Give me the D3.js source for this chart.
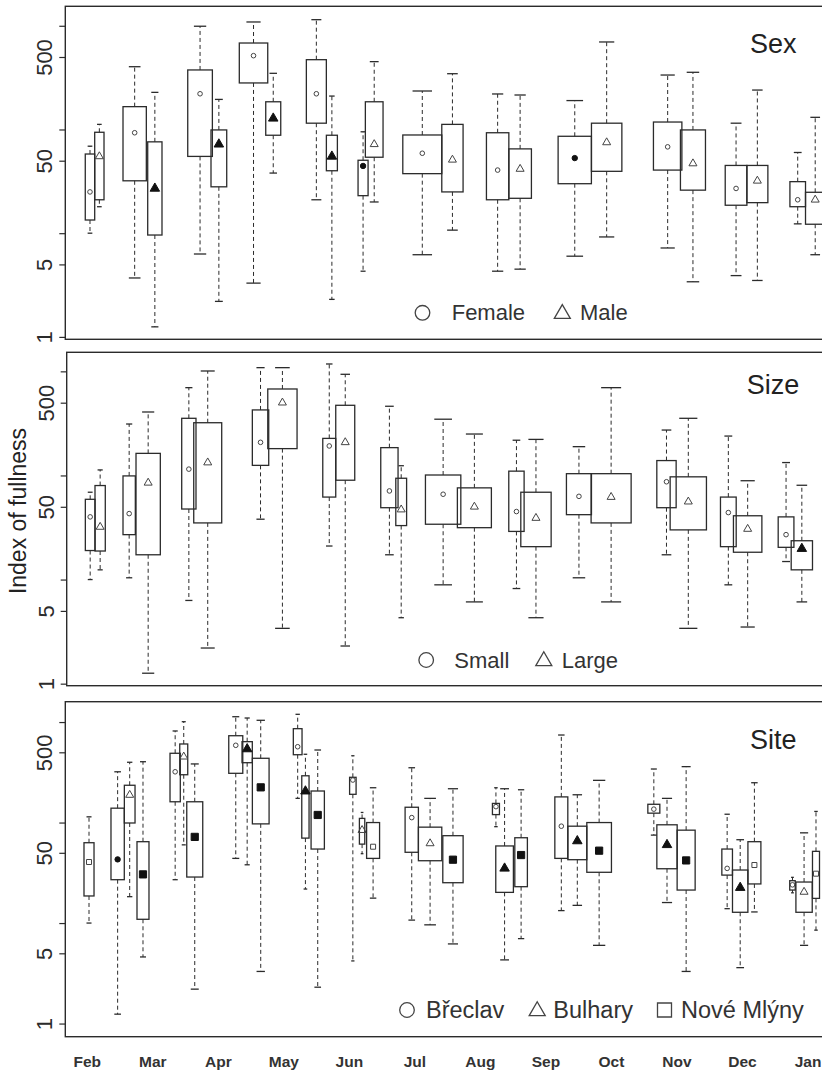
<!DOCTYPE html>
<html>
<head>
<meta charset="utf-8">
<script src="https://cdn.jsdelivr.net/npm/d3@7"></script>
<style>
  body { margin: 0; background: #fff; }
  svg { display: block; font-family: "Liberation Sans", Arial, sans-serif; }
</style>
</head>
<body>
<svg id="chart" width="822" height="1070"></svg>
<script>
const months = ["Feb", "Mar", "Apr", "May", "Jun", "Jul", "Aug", "Sep", "Oct", "Nov", "Dec", "Jan"];
const yTicks = [1, 5, 10, 50, 100, 500, 1000];
const yTickLabels = [1, 5, 50, 500];

// each box: [lower whisker, Q1, median, Q3, upper whisker], one per month
// "at" = box centre on the month axis (0 = Feb), "wid" = box width in month units

/* ---- Sex ---- */
const sexLabels = ["Female", "Male"];
const femaleStats = [
  [10, 13.4, 25, 58, 69], [3.7, 32, 93, 166, 403], [6.3, 55, 221, 375, 990],
  [3.3, 281, 515, 682, 1088], [21, 115, 221, 471, 1145], [4.3, 23, 44.5, 50.5, 95],
  [6.2, 37.5, 59, 88.5, 235], [4.3, 21, 40.6, 93, 220], [6, 30, 53, 86, 190],
  [7.2, 40.6, 68, 118, 335], [3.9, 18.6, 27, 45, 115], [12.3, 18, 21, 31.4, 60]
];
const maleStats = [
  [18, 21, 55, 94, 112], [1.25, 9.6, 27, 76, 228], [2.2, 28, 72, 99, 195],
  [38, 88, 128, 185, 348], [2.3, 40, 55, 88, 210], [20, 54, 72, 185, 451],
  [10.7, 25, 51, 112, 345], [4.5, 21.7, 41.6, 65, 215], [9.2, 39.5, 75, 115, 698],
  [3.4, 26, 47, 99, 356], [3.5, 19.7, 32, 45, 240], [6.2, 12.2, 21, 24.8, 131]
];
const femaleAt = [0.041, 0.723, 1.721, 2.537, 3.496, 4.209, 5.113, 6.263, 7.440, 8.858, 9.902, 10.843];
const femaleWid = [0.144, 0.356, 0.376, 0.434, 0.305, 0.153, 0.595, 0.342, 0.508, 0.434, 0.331, 0.238];
const maleAt = [0.184, 1.031, 2.008, 2.838, 3.733, 4.379, 5.573, 6.606, 7.927, 9.244, 10.227, 11.110];
const maleWid = [0.142, 0.218, 0.240, 0.229, 0.168, 0.270, 0.325, 0.345, 0.464, 0.382, 0.321, 0.296];
const femaleFilled = [0, 0, 0, 0, 0, 1, 0, 0, 1, 0, 0, 0];
const maleFilled = [0, 1, 1, 1, 1, 0, 0, 0, 0, 0, 0, 0];

/* ---- Size ---- */
const sizeLabels = ["Small", "Large"];
const smallStats = [
  [10, 19, 40, 59, 69], [10.4, 27, 43, 99, 312], [6.3, 47.6, 115, 354, 697],
  [38, 125, 208, 426, 1085], [21, 62, 192, 227, 1177], [17.3, 49, 71, 185, 462],
  [8.9, 34, 66, 101, 347], [8.2, 29, 45, 110, 218], [10.4, 42, 63, 104, 189],
  [17.3, 49, 87, 139, 273], [8.9, 20.7, 44, 62, 239], [14.9, 20.4, 27, 40, 133]
];
const largeStats = [
  [12.4, 18.8, 32, 80, 113], [1.26, 17.3, 85, 163, 407], [2.2, 35, 133, 321, 1008],
  [3.4, 181, 500, 677, 1085], [2.3, 90, 208, 472, 937], [4.3, 33, 47, 94, 124],
  [6.1, 31.5, 50, 76, 250], [4.3, 20.7, 39, 69, 222], [6.1, 35, 62, 104, 697],
  [3.4, 30, 56, 97, 354], [3.5, 18.3, 30.6, 41, 89], [6.1, 12.4, 19.8, 23.6, 80.5]
];
const smallAt = [0.044, 0.639, 1.550, 2.644, 3.693, 4.611, 5.431, 6.550, 7.504, 8.840, 9.784, 10.665];
const smallWid = [0.148, 0.188, 0.218, 0.250, 0.198, 0.264, 0.540, 0.234, 0.382, 0.295, 0.240, 0.240];
const largeAt = [0.196, 0.929, 1.838, 2.978, 3.937, 4.791, 5.908, 6.848, 7.995, 9.173, 10.079, 10.906];
const largeWid = [0.157, 0.371, 0.427, 0.447, 0.290, 0.165, 0.519, 0.463, 0.611, 0.554, 0.434, 0.325];
const smallFilled = [0, 0, 0, 0, 0, 0, 0, 0, 0, 0, 0, 0];
const largeFilled = [0, 0, 0, 0, 0, 0, 0, 0, 0, 0, 0, 1];

/* ---- Site ---- */
const siteLabels = ["Břeclav", "Bulhary", "Nové Mlýny"];
const breclavStats = [
  null, [1.24, 27, 43, 139, 320], [27, 161, 320, 489, 815],
  [44, 309, 587, 731, 1130], [174, 473, 568, 859, 1194], [4.2, 191, 265, 282, 462],
  [10.7, 50.6, 112, 142, 351], [91, 120, 144, 155, 222], [13.3, 44, 92, 180, 743],
  [75, 124, 136, 152, 341], [13.9, 30, 35, 54.5, 121], [20, 21.3, 24, 26.4, 28.5]
];
const bulharyStats = [
  null, [18.3, 99, 188, 235, 398], [60, 299, 452, 605, 1008],
  [38, 394, 539, 638, 1097], [21.8, 70, 205, 292, 478], [49, 61, 84, 110, 126],
  [9.6, 41.7, 62, 90, 174], [4.3, 20.2, 35, 58.5, 217], [15, 42.7, 65.5, 92, 189],
  [16, 34.7, 60, 95, 174], [3.6, 12.8, 22.5, 33.7, 67.5], [6, 12.8, 20.4, 25.6, 79]
];
const noveStats = [
  [10, 18.6, 40.5, 63, 114], [4.6, 10.9, 30.5, 64.5, 403], [2.2, 28.7, 72, 161, 383],
  [3.3, 97, 224, 436, 1041], [2.3, 54.5, 119, 206, 527], [17.7, 44, 57.5, 100, 222],
  [6.2, 25.2, 42.7, 74, 217], [7, 23, 47.5, 70.6, 212], [6, 32, 52.5, 100, 263],
  [3.3, 21.3, 42, 84, 360], [12.9, 24.5, 37.8, 64.5, 249], [8.5, 17.6, 31, 51.7, 129]
];
const breclavAt = [null, 0.463, 1.341, 2.266, 3.211, 4.053, 4.952, 6.237, 7.235, 8.647, 9.766, 10.763];
const breclavWid = [null, 0.203, 0.157, 0.214, 0.133, 0.099, 0.203, 0.107, 0.198, 0.183, 0.162, 0.084];
const bulharyAt = [null, 0.647, 1.472, 2.440, 3.329, 4.194, 5.232, 6.369, 7.479, 8.848, 9.965, 10.940];
const bulharyWid = [null, 0.163, 0.122, 0.157, 0.111, 0.082, 0.357, 0.269, 0.290, 0.310, 0.235, 0.249];
const noveAt = [0.026, 0.850, 1.640, 2.647, 3.517, 4.362, 5.581, 6.621, 7.812, 9.140, 10.182, 11.122];
const noveWid = [0.153, 0.183, 0.244, 0.255, 0.203, 0.198, 0.310, 0.192, 0.376, 0.275, 0.198, 0.107];
const breclavFilled = [0, 1, 0, 0, 0, 0, 0, 0, 0, 0, 0, 0];
const bulharyFilled = [0, 0, 0, 1, 1, 0, 0, 1, 1, 1, 1, 0];
const noveFilled = [0, 1, 1, 1, 1, 0, 1, 1, 1, 1, 0, 0];

const svg = d3.select("#chart");
const ink = "#2b2b2b";

// month axis shared by every panel
const x = d3.scaleLinear().domain([0, 11]).range([87.3, 808]);
const unit = x(1) - x(0);
const xMonth = d3.scalePoint().domain(months).range([87.3, 808]);

const symTypes = {circle: d3.symbolCircle, triangle: d3.symbolTriangle, square: d3.symbolSquare};

// area of the small median markers
const markArea = {
  circle: [Math.PI * 2.3 * 2.3, Math.PI * 2.7 * 2.7],
  triangle: [Math.sqrt(3) / 4 * 8 * 8, Math.sqrt(3) / 4 * 9.5 * 9.5],
  square: [5 * 5, 7.2 * 7.2]
};

const panels = [
  {
    top: 6.3, bottom: 339.3, left: 65.3, domain: [0.948, 1541],
    title: "Sex", titleX: 750, titleY: 53.3,
    labels: sexLabels, legY: 312.8, legBase: 320.3, legSize: 22,
    legSym: [422.5, 562.3], legText: [451.7, 580],
    series: [
      {stats: femaleStats, at: femaleAt, wid: femaleWid, filled: femaleFilled, shape: "circle"},
      {stats: maleStats, at: maleAt, wid: maleWid, filled: maleFilled, shape: "triangle"}
    ]
  },
  {
    top: 352.3, bottom: 685.7, left: 66.7, domain: [0.956, 1524],
    title: "Size", titleX: 746.7, titleY: 393.8,
    labels: sizeLabels, legY: 660, legBase: 668.3, legSize: 22,
    legSym: [426.2, 543.8], legText: [454.3, 561.7],
    series: [
      {stats: smallStats, at: smallAt, wid: smallWid, filled: smallFilled, shape: "circle"},
      {stats: largeStats, at: largeAt, wid: largeWid, filled: largeFilled, shape: "triangle"}
    ]
  },
  {
    top: 701.7, bottom: 1036.7, left: 65.3, domain: [0.74, 1594],
    title: "Site", titleX: 750, titleY: 749.3,
    labels: siteLabels, legY: 1010, legBase: 1018.3, legSize: 23.5,
    legSym: [407, 537.2, 664.5], legText: [426, 553.3, 681],
    series: [
      {stats: breclavStats, at: breclavAt, wid: breclavWid, filled: breclavFilled, shape: "circle"},
      {stats: bulharyStats, at: bulharyAt, wid: bulharyWid, filled: bulharyFilled, shape: "triangle"},
      {stats: noveStats, at: noveAt, wid: noveWid, filled: noveFilled, shape: "square"}
    ]
  }
];

let drawPanel = (p) => {
    const g = svg.append("g");
    const y = d3.scaleLog().domain(p.domain).range([p.bottom, p.top]);

    // frame, runs off the right edge like the original
    g.append("rect")
        .attr("x", p.left).attr("y", p.top)
        .attr("width", 840 - p.left).attr("height", p.bottom - p.top)
        .attr("fill", "none").attr("stroke", ink).attr("stroke-width", 1.4);

    // y axis with rotated labels
    const ax = g.append("g")
        .attr("transform", "translate(" + p.left + ",0)")
        .call(d3.axisLeft(y).tickValues(yTicks).tickSize(6)
            .tickFormat(d => yTickLabels.includes(d) ? d : ""));
    ax.select(".domain").remove();
    ax.selectAll(".tick line").attr("stroke", ink).attr("stroke-width", 1.2);
    ax.selectAll(".tick text")
        .attr("x", null).attr("dy", null)
        .attr("transform", "translate(-13,0) rotate(-90)")
        .attr("text-anchor", "middle")
        .attr("fill", ink)
        .style("font-family", "'Liberation Sans', Arial, sans-serif")
        .style("font-size", "22px");

    // boxes
    p.series.forEach(s => {
        s.stats.forEach((st, i) => {
            if (!st) return;
            const [lo, q1, med, q3, hi] = st;
            const cx = x(s.at[i]);
            const w = s.wid[i] * unit;
            const bg = g.append("g");

            bg.append("line")
                .attr("x1", cx).attr("x2", cx).attr("y1", y(q3)).attr("y2", y(hi))
                .attr("stroke", ink).attr("stroke-width", 1).attr("stroke-dasharray", "4,3");
            bg.append("line")
                .attr("x1", cx).attr("x2", cx).attr("y1", y(q1)).attr("y2", y(lo))
                .attr("stroke", ink).attr("stroke-width", 1).attr("stroke-dasharray", "4,3");
            [lo, hi].forEach(v => {
                bg.append("line")
                    .attr("x1", cx - w / 4).attr("x2", cx + w / 4)
                    .attr("y1", y(v)).attr("y2", y(v))
                    .attr("stroke", ink).attr("stroke-width", 1.3);
            });
            bg.append("rect")
                .attr("x", cx - w / 2).attr("width", w)
                .attr("y", y(q3)).attr("height", y(q1) - y(q3))
                .attr("fill", "none").attr("stroke", ink).attr("stroke-width", 1.3);

            const filled = s.filled[i] === 1;
            bg.append("path")
                .attr("d", d3.symbol().type(symTypes[s.shape]).size(markArea[s.shape][filled ? 1 : 0])())
                .attr("transform", "translate(" + cx + "," + y(med) + ")")
                .attr("fill", filled ? "#111" : "none")
                .attr("stroke", filled ? "#111" : "#444")
                .attr("stroke-width", 1);
        });
    });

    // panel title
    g.append("text")
        .attr("x", p.titleX).attr("y", p.titleY)
        .attr("fill", "#222").style("font-size", "27px")
        .text(p.title);

    // legend
    const legArea = {
        circle: Math.PI * 7.3 * 7.3,
        triangle: Math.sqrt(3) / 4 * 16 * 16,
        square: 14 * 14
    };
    p.labels.forEach((lab, i) => {
        const shape = p.series[i].shape;
        g.append("path")
            .attr("d", d3.symbol().type(symTypes[shape]).size(legArea[shape])())
            .attr("transform", "translate(" + p.legSym[i] + "," + (p.legY + (shape === "triangle" ? 1 : 0)) + ")")
            .attr("fill", "none").attr("stroke", "#444").attr("stroke-width", 1.3);
        g.append("text")
            .attr("x", p.legText[i]).attr("y", p.legBase)
            .attr("fill", "#333").style("font-size", p.legSize + "px")
            .text(lab);
    });
};

panels.forEach(drawPanel);

// shared y title
svg.append("text")
    .attr("transform", "translate(26,511) rotate(-90)")
    .attr("text-anchor", "middle")
    .attr("fill", "#222")
    .style("font-size", "23px")
    .text("Index of fullness");

// month labels under the last panel
svg.append("g").selectAll("text")
    .data(months)
    .enter().append("text")
    .attr("x", d => xMonth(d))
    .attr("y", 1067)
    .attr("text-anchor", "middle")
    .attr("fill", "#333")
    .style("font-size", "15.5px")
    .style("font-weight", "bold")
    .text(d => d);
</script>
</body>
</html>
